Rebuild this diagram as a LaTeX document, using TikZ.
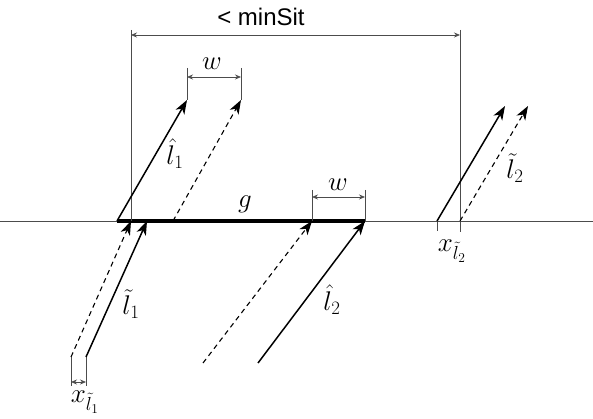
\RequirePackage{fix-cm}
\documentclass[tikz,border=0pt]{standalone}
\usepackage{amsmath}
\usepackage{fontspec}
\newfontfamily\dimfont{Liberation Sans}
\usetikzlibrary{arrows.meta,positioning}
\tikzset{
  lbl/.style={font=\fontsize{27}{31}\selectfont, inner sep=1pt},
  vec/.style={line width=1.5pt, -{Stealth[length=14pt,width=10pt,inset=4pt]}},
  vecdash/.style={vec, line width=1.1pt, dash pattern=on 5pt off 4pt},
  guide/.style={line width=0.7pt, black!70},
  dimline/.style={guide, {Stealth[length=6pt,width=5pt]}-{Stealth[length=6pt,width=5pt]}}
}

\begin{document}
\begin{tikzpicture}[x=1pt, y=-1pt]
\useasboundingbox (0,0) rectangle (593,419);
% ground line and segment g
\coordinate (axL) at (0,221); \coordinate (axR) at (593,221);
\coordinate (gL) at (117,221); \coordinate (gR) at (365,221);
\draw[guide] (axL) -- (axR);
\draw[line width=4pt] (gL) -- (gR);
\node[lbl] (g) at (245,204) {$g$};

% end points of the vectors
\foreach \n/\xa/\ya/\xb/\yb in {hA/117/221/187/100, hB/173/221/241/100,
  tA/86/357/147/221, tB/71/357/131/221, kA/258/363/365/221, kB/203/363/312/221,
  rA/437/221/505/106, rB/460/221/528/106}{
  \coordinate (\n-s) at (\xa,\ya);
  \coordinate (\n-e) at (\xb,\yb);
}

% minSit
\coordinate (mL) at (131,30); \coordinate (mR) at (460,30);
\draw[guide] (mL) -- (131,221);
\draw[guide] (mR) -- (460,232);
\draw[dimline] (131,35) -- (460,35);
\node[lbl, font=\dimfont\fontsize{24}{28}\selectfont] (minsit) at (261,17) {< minSit};

% w above
\draw[guide] (187,68) -- (hA-e);
\draw[guide] (241,68) -- (hB-e);
\draw[dimline] (187,77) -- (241,77);
\node[lbl] (wTop) at (212,64) {$w$};

% w right
\draw[guide] (312,190) -- (kB-e);
\draw[guide] (365,190) -- (kA-e);
\draw[dimline] (312,197) -- (365,197);
\node[lbl] (wRight) at (338,185) {$w$};

% x offsets
\draw[guide] (tB-s) -- (71,386);
\draw[guide] (tA-s) -- (86,386);
\draw[dimline] (71,382) -- (86,382);
\node[lbl] (xOne) at (85,402) {$x_{\tilde{l}_1}$};
\draw[guide] (rA-s) -- (437,231);
\node[lbl] (xTwo) at (452,251) {$x_{\tilde{l}_2}$};

% vectors
\draw[vec] (hA-s) -- (hA-e);
\draw[vecdash] (hB-s) -- (hB-e);
\draw[vec] (tA-s) -- (tA-e);
\draw[vecdash] (tB-s) -- (tB-e);
\draw[vec] (kA-s) -- (kA-e);
\draw[vecdash] (kB-s) -- (kB-e);
\draw[vec] (rA-s) -- (rA-e);
\draw[vecdash] (rB-s) -- (rB-e);

\node[lbl] (hOne) at (175,154) {$\hat{l}_1$};
\node[lbl] (tOne) at (131,304) {$\tilde{l}_1$};
\node[lbl] (hTwo) at (332,300) {$\hat{l}_2$};
\node[lbl] (tTwo) at (515,168) {$\tilde{l}_2$};
\end{tikzpicture}
\end{document}
